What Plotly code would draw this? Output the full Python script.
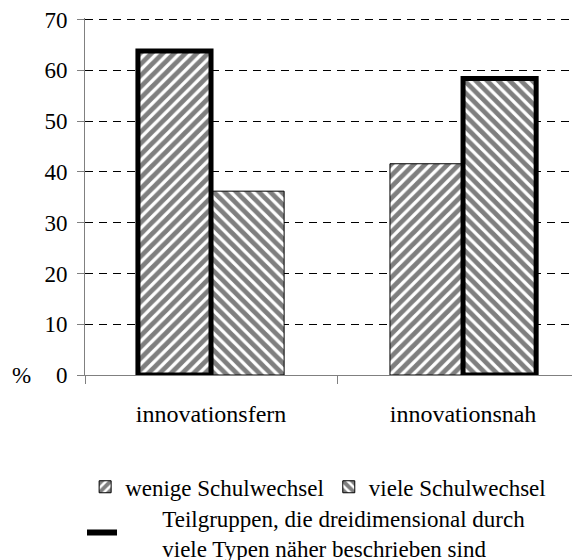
import plotly.graph_objects as go

categories = ["innovationsfern", "innovationsnah"]
wenige = [63.8, 41.6]
viele = [36.2, 58.4]
highlight_wenige = [True, False]
highlight_viele = [False, True]
y_ticks = [0, 10, 20, 30, 40, 50, 60, 70]

FONT = "Liberation Serif"
x_pos = list(range(len(categories)))
BW = 0.29
PAD = "\u00a0" * 7

fig = go.Figure()
series = [
    ("wenige Schulwechsel", wenige, highlight_wenige, "/", -BW),
    ("viele Schulwechsel", viele, highlight_viele, "\\", 0.0),
]
for name, vals, flags, shape, off in series:
    fig.add_trace(go.Bar(
        x=x_pos, y=vals, name=name, width=BW, offset=off,
        marker=dict(color="white",
                    pattern=dict(shape=shape, fgcolor="black", bgcolor="white",
                                 size=8, solidity=0.6),
                    line=dict(color="black", width=1)),
        legend="legend",
    ))
for name, vals, flags, shape, off in series:
    hx = [x for x, f in zip(x_pos, flags) if f]
    hy = [v for v, f in zip(vals, flags) if f]
    fig.add_trace(go.Bar(
        x=hx, y=hy, width=BW, offset=off, showlegend=False, hoverinfo="skip",
        marker=dict(color="rgba(0,0,0,0)", line=dict(color="black", width=5)),
    ))
fig.add_trace(go.Scatter(
    x=[None], y=[None], mode="lines",
    name=PAD + "Teilgruppen, die dreidimensional durch<br>" + PAD + "viele Typen näher beschrieben sind",
    line=dict(color="black", width=6),
    legend="legend2",
))

fig.update_layout(
    width=580, height=560,
    margin=dict(l=77, r=8, t=9.5, b=193, autoexpand=False),
    paper_bgcolor="white", plot_bgcolor="white",
    font=dict(family=FONT, size=23, color="black"),
    barmode="overlay",
    xaxis=dict(
        range=[-0.5, 1.464],
        tickmode="array", tickvals=x_pos, ticktext=categories,
        tickfont=dict(size=24),
        ticks="", showgrid=False, zeroline=False,
        showline=True, linecolor="#808080", linewidth=1,
        ticklabelstandoff=17,
        minor=dict(tickmode="array", tickvals=[-0.5, 0.5], ticks="outside",
                   ticklen=8, tickcolor="#808080", tickwidth=1, showgrid=False),
    ),
    yaxis=dict(
        range=[0, 70.3],
        tickmode="array", tickvals=y_ticks,
        tickfont=dict(size=23),
        ticks="outside", ticklen=7, tickcolor="#808080", tickwidth=1,
        showgrid=True, gridcolor="black", gridwidth=1, griddash="8px,6px",
        zeroline=False, showline=True, linecolor="#808080", linewidth=1,
        ticklabelstandoff=5, ticklabeloverflow="allow",
    ),
    legend=dict(orientation="h", xref="container", yref="container",
                x=0.133, y=0.145, xanchor="left", yanchor="middle",
                font=dict(family=FONT, size=23), itemwidth=30,
                bgcolor="rgba(0,0,0,0)", traceorder="normal"),
    legend2=dict(orientation="v", xref="container", yref="container",
                 x=0.1276, y=0.063, xanchor="left", yanchor="middle",
                 font=dict(family=FONT, size=23), itemwidth=30,
                 bgcolor="rgba(0,0,0,0)"),
    annotations=[dict(text="%", xref="paper", yref="y", x=0, y=0,
                      xshift=-64, showarrow=False, xanchor="center",
                      yanchor="middle", font=dict(family=FONT, size=23))],
)

fig.write_html("out.html")
